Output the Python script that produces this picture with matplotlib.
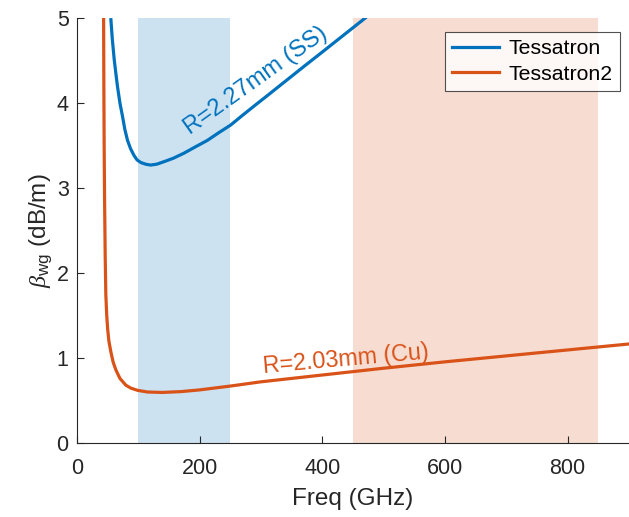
import matplotlib
matplotlib.use("Agg")
import matplotlib.pyplot as plt

plt.rcParams['font.family'] = ['Liberation Sans', 'DejaVu Sans']
plt.rcParams['mathtext.fontset'] = 'custom'
plt.rcParams['mathtext.it'] = 'Liberation Serif:italic'
plt.rcParams['mathtext.rm'] = 'Liberation Sans'

# Tessatron (R=2.27mm, SS)
freq_ss = [55.3, 57.5, 60.7, 63.5, 66.1, 70, 74.3, 78, 82.4, 87.5, 93.2, 98, 104,
           112, 120, 130, 142, 157, 174.5, 192, 212.5, 231, 250.4, 269, 288,
           310, 331.7, 370, 400, 435, 470]
beta_ss = [4.98, 4.76, 4.51, 4.34, 4.19, 4.0, 3.84, 3.69, 3.56, 3.46, 3.38, 3.33, 3.30,
           3.28, 3.27, 3.28, 3.31, 3.35, 3.41, 3.48, 3.56, 3.65, 3.74, 3.85, 3.96,
           4.085, 4.21, 4.43, 4.60, 4.80, 5.0]

# Tessatron2 (R=2.03mm, Cu)
freq_cu = [43.4, 43.8, 44.3, 45.0, 46.0, 47.0, 48.5, 50, 52, 55.3, 59, 63.4, 70,
           79.7, 88, 98.6, 115, 139, 170, 200, 250, 300, 400, 500, 600, 700, 800, 900]
beta_cu = [5.0, 4.2, 3.5, 2.85, 2.2, 1.75, 1.5, 1.34, 1.2, 1.07, 0.95, 0.86, 0.76,
           0.68, 0.645, 0.62, 0.60, 0.595, 0.605, 0.625, 0.67, 0.72, 0.80, 0.88,
           0.955, 1.025, 1.095, 1.165]

band_ss = (100, 250)
band_cu = (450, 850)

blue = '#0072BD'
orange = '#D95319'

fig = plt.figure(figsize=(6.29, 5.17), dpi=100)
ax = fig.add_axes([0.1224, 0.1431, 0.8776, 0.8221])

ax.axvspan(*band_ss, color=blue, alpha=0.2, lw=0)
ax.axvspan(*band_cu, color=orange, alpha=0.2, lw=0)

ax.plot(freq_ss, beta_ss, color=blue, lw=2.3, label='Tessatron', solid_joinstyle='round')
ax.plot(freq_cu, beta_cu, color=orange, lw=2.3, label='Tessatron2', solid_joinstyle='round')

ax.text(292, 4.26, 'R=2.27mm (SS)', color=blue, fontsize=17, rotation=35.5,
        ha='center', va='center', rotation_mode='anchor')
ax.text(438, 0.98, 'R=2.03mm (Cu)', color=orange, fontsize=16.8, rotation=5,
        ha='center', va='center', rotation_mode='anchor')

ax.set_xlim(0, 900)
ax.set_ylim(0, 5)
ax.set_xticks([0, 200, 400, 600, 800])
ax.set_yticks([0, 1, 2, 3, 4, 5])
ax.tick_params(direction='in', labelsize=15.5, colors='#262626', length=5, width=0.8)
ax.tick_params(axis='x', pad=11)
ax.tick_params(axis='y', pad=6)
for s in ['top', 'right']:
    ax.spines[s].set_visible(False)
for s in ['left', 'bottom']:
    ax.spines[s].set_color('#262626')
    ax.spines[s].set_linewidth(0.8)

ax.set_xlabel('Freq (GHz)', fontsize=17.5, color='#262626', labelpad=6)
ax.set_ylabel(r'$\beta_{\mathrm{wg}}$ (dB/m)', fontsize=17.5, color='#262626', labelpad=2)

leg = ax.legend(loc='upper right', bbox_to_anchor=(0.9837, 0.967), fontsize=15.3,
                frameon=True, fancybox=False, edgecolor='#262626',
                handlelength=2.2, borderpad=0.35, labelspacing=0.3, handletextpad=0.45,
                borderaxespad=0)
leg.get_frame().set_linewidth(0.8)

fig.savefig('out.png', dpi=100)
